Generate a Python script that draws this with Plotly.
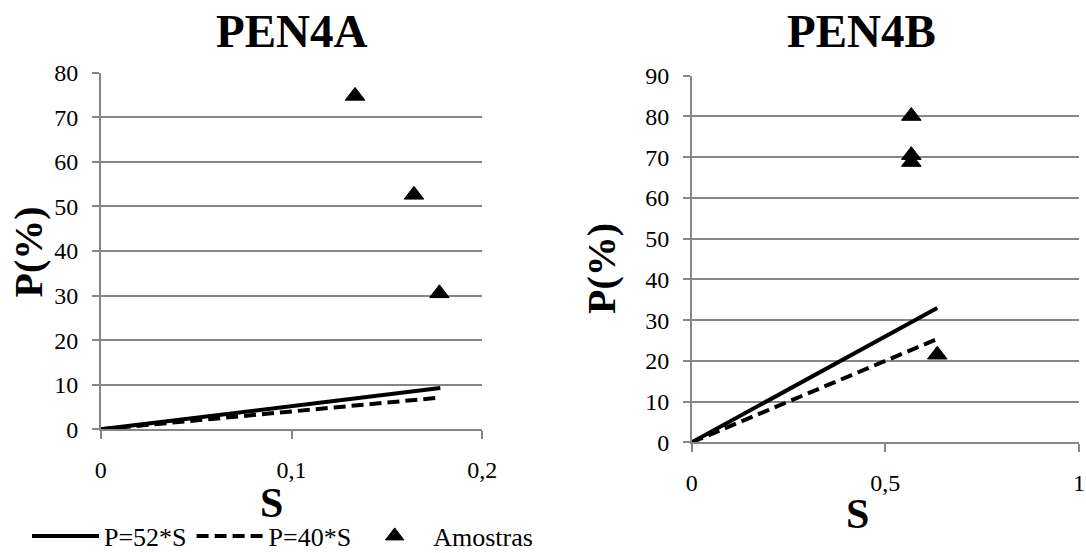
import plotly.graph_objects as go

# ---- data ----
s_line_a = [0, 0.178]
s_line_b = [0, 0.634]
coef_52 = 52
coef_40 = 40
samples_a_s = [0.1333, 0.1642, 0.1775]
samples_a_p = [74.8, 52.6, 30.5]
samples_b_s = [0.567, 0.567, 0.567, 0.634]
samples_b_p = [80.1, 70.5, 68.8, 21.5]
yticks_a = [0, 10, 20, 30, 40, 50, 60, 70, 80]
yticks_b = [0, 10, 20, 30, 40, 50, 60, 70, 80, 90]
xticks_a = [0, 0.1, 0.2]
xticks_a_text = ["0", "0,1", "0,2"]
xticks_b = [0, 0.5, 1]
xticks_b_text = ["0", "0,5", "1"]

W, H = 1086, 553
FONT = "Liberation Serif"
GRID = "#868686"

fig = go.Figure()

def add_panel(sl, ss, sp, xa, ya, show):
    fig.add_trace(go.Scatter(x=sl, y=[coef_52 * v for v in sl], mode="lines",
                             line=dict(color="black", width=4), name="P=52*S",
                             xaxis=xa, yaxis=ya, showlegend=show, legendgroup="a"))
    fig.add_trace(go.Scatter(x=sl, y=[coef_40 * v for v in sl], mode="lines",
                             line=dict(color="black", width=4, dash="12px,6px"), name="P=40*S",
                             xaxis=xa, yaxis=ya, showlegend=show, legendgroup="b"))
    fig.add_trace(go.Scatter(x=ss, y=sp, mode="markers",
                             marker=dict(symbol="triangle-up", color="black", size=17,
                                         line=dict(color="black", width=1)),
                             name="Amostras", xaxis=xa, yaxis=ya, showlegend=show, legendgroup="c"))

add_panel(s_line_a, samples_a_s, samples_a_p, "x", "y", True)
add_panel(s_line_b, samples_b_s, samples_b_p, "x2", "y2", False)

def px_x(v):
    return v / W

def px_y(v):
    return 1 - v / H

axis_common = dict(showline=True, linecolor=GRID, linewidth=1.5, ticks="outside",
                   tickcolor=GRID, tickwidth=1.5, zeroline=False, automargin=False,
                   tickfont=dict(family=FONT, size=24, color="black"))

fig.update_layout(
    width=W, height=H, margin=dict(l=0, r=0, t=0, b=0, autoexpand=False),
    paper_bgcolor="white", plot_bgcolor="white",
    font=dict(family=FONT, color="black"),
    xaxis=dict(domain=[px_x(100.7), px_x(482.3)], range=[0, 0.2], tickvals=xticks_a,
               ticktext=xticks_a_text, showgrid=False, ticklen=8, anchor="y",
               ticklabelstandoff=10, **axis_common),
    yaxis=dict(domain=[px_y(429.3), px_y(72.7)], range=[0, 80], tickvals=yticks_a,
               showgrid=True, gridcolor=GRID, gridwidth=1.5, ticklen=7, anchor="x",
               ticklabelstandoff=9, **axis_common),
    xaxis2=dict(domain=[px_x(691.7), px_x(1079)], range=[0, 1], tickvals=xticks_b,
                ticktext=xticks_b_text, showgrid=False, ticklen=8, anchor="y2",
                ticklabelstandoff=10, **axis_common),
    yaxis2=dict(domain=[px_y(442.3), px_y(75.7)], range=[0, 90], tickvals=yticks_b,
                showgrid=True, gridcolor=GRID, gridwidth=1.5, ticklen=7, anchor="x2",
                ticklabelstandoff=9, **axis_common),
    showlegend=True,
    legend=dict(orientation="h", x=px_x(27), y=px_y(536), xanchor="left", yanchor="middle",
                font=dict(family=FONT, size=26, color="black"), itemwidth=67,
                bgcolor="rgba(0,0,0,0)", tracegroupgap=0),
)

def ann(text, x, y, size, bold=True, angle=0):
    fig.add_annotation(text=f"<b>{text}</b>" if bold else text, x=px_x(x), y=px_y(y),
                       xref="paper", yref="paper", showarrow=False, textangle=angle,
                       xanchor="center", yanchor="middle",
                       font=dict(family=FONT, size=size, color="black"))

ann("PEN4A", 291.5, 31, 47)
ann("PEN4B", 861, 31, 47)
ann("S", 271, 503, 42)
ann("S", 857, 514, 42)
ann("P(%)", 27.5, 252, 40, angle=-90)
ann("P(%)", 601, 269, 40, angle=-90)

fig.write_html("out.html")
